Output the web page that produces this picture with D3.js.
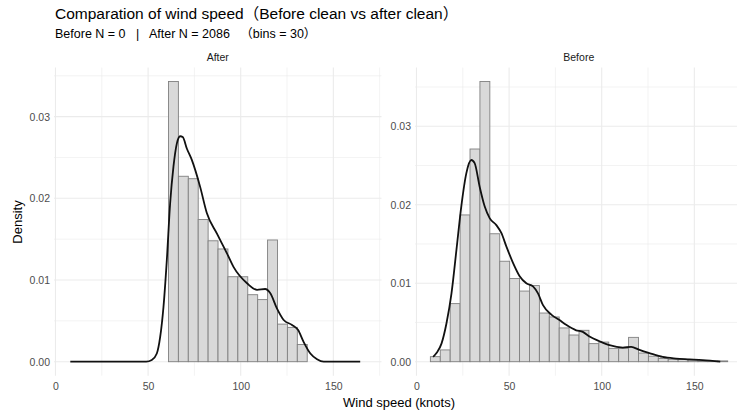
<!DOCTYPE html>
<html lang="en">
<head>
  <meta charset="UTF-8">
  <title>Wind speed before / after clean</title>
  <style>
    body { margin: 0; background: #fff; font-family: "Liberation Sans", Arial, "Noto Sans CJK SC", sans-serif; }
    .grid line { stroke: #ebebeb; }
    .grid .minor { stroke-width: 0.6; }
    .grid .major { stroke-width: 1.1; }
    .tick text { fill: #4d4d4d; font-size: 10.5px; }
    .pre { white-space: pre; }
  </style>
  <script src="https://d3js.org/d3.v7.min.js"></script>
</head>
<body>
<div id="chart"></div>
<script>
// ---- data ----
var panelNames = ['After', 'Before'];
var binStart = 7.5, binWidth = 5.35, binCount = 30;

var afterDensity = [0, 0, 0, 0, 0, 0, 0, 0, 0, 0,
  0.0343, 0.0227, 0.0224, 0.0174, 0.0148, 0.0138, 0.0104, 0.0104, 0.0082, 0.0076,
  0.0149, 0.0046, 0.0042, 0.0021, 0, 0, 0, 0, 0, 0];
var beforeDensity = [0.00064, 0.0015, 0.0074, 0.0187, 0.0271, 0.0357, 0.0163, 0.0128, 0.0106, 0.0090,
  0.0097, 0.0062, 0.0057, 0.0043, 0.0034, 0.0040, 0.0023, 0.0025, 0.0017, 0.0017,
  0.0031, 0.0011, 0.0007, 0.0004, 0.0003, 0.0003, 0.0002, 0.0001, 0.0001, 0.0001];

var afterCurveX = [8, 30, 49, 52, 54.7, 56.5, 58.3, 60.1, 61.9, 63.7, 65.5, 67.3, 68.7, 70.9, 73.6, 78.1, 81.7, 87.1, 92.5, 96.1, 103.4, 108.8, 113.2, 115.9, 119.6, 123.2, 127.7, 130.9, 134, 137.6, 141.2, 144.8, 164.5];
var afterCurveY = [0, 0, 0, 0.0002, 0.001, 0.003, 0.0067, 0.0124, 0.0194, 0.0239, 0.0267, 0.0276, 0.0275, 0.0261, 0.0247, 0.0214, 0.0182, 0.0157, 0.0133, 0.0116, 0.0096, 0.0088, 0.0089, 0.0084, 0.0065, 0.0051, 0.0045, 0.0039, 0.0024, 0.001, 0.0003, 0, 0];
var beforeCurveX = [9, 10.8, 13.5, 16.2, 18.9, 21.6, 24.2, 26.9, 29.6, 31.4, 34.1, 36.8, 39.5, 43.1, 45.8, 48.5, 52.1, 55.7, 59.3, 62.9, 65.6, 68.3, 72.8, 77.2, 80.8, 86.2, 89.8, 93.4, 98.8, 104.2, 111.4, 115.9, 120.4, 125.7, 132.9, 140.1, 147.3, 154.5, 164];
var beforeCurveY = [0.0006, 0.0011, 0.0023, 0.0049, 0.0087, 0.0143, 0.0198, 0.0240, 0.0257, 0.0253, 0.0223, 0.0198, 0.0183, 0.0174, 0.0164, 0.0147, 0.0126, 0.0109, 0.0100, 0.0096, 0.0087, 0.0072, 0.0060, 0.0053, 0.0047, 0.0040, 0.0038, 0.0032, 0.0026, 0.0021, 0.0018, 0.0019, 0.0015, 0.0011, 0.0006, 0.0004, 0.0003, 0.0002, 0];

var xTicks = [0, 50, 100, 150];
var xMinor = [25, 75, 125, 175];
var yTicks = [0, 0.01, 0.02, 0.03];
var yMinor = [0.005, 0.015, 0.025, 0.035];

var titleText = 'Comparation of wind speed（Before clean vs after clean）';
var subtitleText = 'Before N = 0   |   After N = 2086   （bins = 30）';

// ---- layout ----
var W = 737, H = 414;
var panelTop = 67.5, panelBottom = 375.7;
var panelsX = [[54, 381.5], [415, 742.5]];
var densities = [afterDensity, beforeDensity];
var curves = [[afterCurveX, afterCurveY], [beforeCurveX, beforeCurveY]];

var svg = d3.select('#chart').append('svg').attr('width', W).attr('height', H);

svg.append('text').attr('x', 55).attr('y', 19)
  .style('font-size', '15.5px').attr('fill', '#000').text(titleText);
svg.append('text').attr('class', 'pre').attr('x', 55).attr('y', 38)
  .style('font-size', '12.5px').attr('fill', '#000').text(subtitleText);

panelNames.forEach(function(name, p) {
  var vals = densities[p];
  var bins = vals.map(function(v, i) {
    return { x0: binStart + i * binWidth, x1: binStart + (i + 1) * binWidth, y: v };
  });
  var ymax = d3.max(vals);
  var x = d3.scaleLinear().domain([-0.8, 176]).range(panelsX[p]);
  var y = d3.scaleLinear().domain([-ymax * 0.05, ymax * 1.05]).range([panelBottom, panelTop]);

  var g = svg.append('g');
  var grid = g.append('g').attr('class', 'grid');
  grid.selectAll('.vmin').data(xMinor).enter().append('line').attr('class', 'minor')
    .attr('x1', x).attr('x2', x).attr('y1', panelTop).attr('y2', panelBottom);
  grid.selectAll('.hmin').data(yMinor.filter(function(d) { return d < ymax * 1.05; })).enter().append('line').attr('class', 'minor')
    .attr('y1', y).attr('y2', y).attr('x1', panelsX[p][0]).attr('x2', panelsX[p][1]);
  grid.selectAll('.vmaj').data(xTicks).enter().append('line').attr('class', 'major')
    .attr('x1', x).attr('x2', x).attr('y1', panelTop).attr('y2', panelBottom);
  grid.selectAll('.hmaj').data(yTicks).enter().append('line').attr('class', 'major')
    .attr('y1', y).attr('y2', y).attr('x1', panelsX[p][0]).attr('x2', panelsX[p][1]);

  // bars
  g.selectAll('rect').data(bins).enter().append('rect')
    .attr('x', function(d) { return x(d.x0); })
    .attr('width', function(d) { return x(d.x1) - x(d.x0); })
    .attr('y', function(d) { return y(d.y); })
    .attr('height', function(d) { return y(0) - y(d.y); })
    .attr('fill', '#d9d9d9').attr('stroke', '#808080').attr('stroke-width', 0.9);

  // density curve
  var pts = curves[p][0].map(function(v, i) { return [v, curves[p][1][i]]; });
  g.append('path').datum(pts)
    .attr('d', d3.line().curve(d3.curveMonotoneX)
      .x(function(d) { return x(d[0]); }).y(function(d) { return y(d[1]); }))
    .attr('fill', 'none').attr('stroke', '#111').attr('stroke-width', 1.8);

  // axes (no lines, only labels)
  var xa = g.append('g').attr('transform', 'translate(0,' + (panelBottom + 5) + ')')
    .call(d3.axisBottom(x).tickValues(xTicks).tickSize(0).tickPadding(2));
  xa.select('.domain').remove();
  var ya = g.append('g').attr('transform', 'translate(' + (panelsX[p][0] - 3) + ',0)')
    .call(d3.axisLeft(y).tickValues(yTicks).tickSize(0).tickPadding(1).tickFormat(d3.format('.2f')));
  ya.select('.domain').remove();

  // strip label
  g.append('text').attr('x', (panelsX[p][0] + panelsX[p][1]) / 2).attr('y', 61)
    .attr('text-anchor', 'middle').style('font-size', '10.5px').attr('fill', '#1a1a1a').text(name);
});

svg.append('text').attr('transform', 'translate(22,222) rotate(-90)')
  .attr('text-anchor', 'middle').style('font-size', '13px').attr('fill', '#000').text('Density');
svg.append('text').attr('x', 399).attr('y', 407)
  .attr('text-anchor', 'middle').style('font-size', '13px').attr('fill', '#000').text('Wind speed (knots)');
</script>
</body>
</html>
